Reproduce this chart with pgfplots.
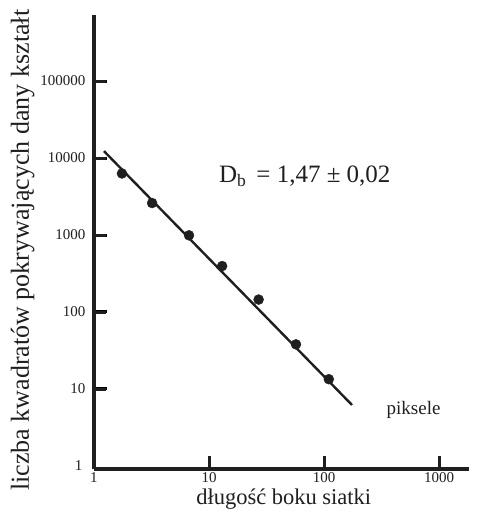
\documentclass[border=0pt]{standalone}
\usepackage{fontspec}
\setmainfont{Liberation Serif}
\usepackage{pgfplots}
\pgfplotsset{compat=1.18}
\usetikzlibrary{calc}
\definecolor{ink}{gray}{0.12}
\begin{document}
\begin{tikzpicture}
  \begin{axis}[
    name=ax,
    xmode=log, ymode=log,
    scale only axis,
    width=375pt, height=454pt,
    xmin=1, xmax=1820,
    ymin=0.914, ymax=720000,
    axis x line*=bottom, axis y line*=left,
    axis line style={line width=3.6pt, draw=ink},
    xtick align=inside, ytick align=inside,
    major tick length=13pt,
    major tick style={line width=3pt, draw=black},
    minor tick style={draw=none},
    xtick={1,10,100,1000},
    xticklabels={1,10,100,1000},
    ytick={10,100,1000,10000,100000},
    yticklabels={10,100,1000,10000,100000},
    tick label style={font=\fontsize{15}{15}\selectfont, ink},
    yticklabel style={xshift=-5pt},
    xlabel={długość boku siatki},
    ylabel={liczba kwadratów pokrywających dany kształt},
    xlabel style={font=\fontsize{22.5}{22.5}\selectfont, ink,
      at={(axis description cs:0.506,-0.066)}, anchor=center},
    ylabel style={font=\fontsize{26}{26}\selectfont, ink,
      at={(axis description cs:-0.19,0.482)}, anchor=center, rotate=0},
    clip=false,
  ]
  % dopasowana prosta
  \addplot[ink, line width=2.4pt] coordinates {(1.22,12300) (175,6.2)};
  % punkty pomiarowe
  \addplot[only marks, mark=*, mark size=5pt, ink] coordinates {
    (1.75,6300) (3.2,2600) (6.7,990) (13,395) (27,145) (57,38) (110,13.4)
  };
  \node[anchor=east, ink, font=\fontsize{15}{15}\selectfont, xshift=-8pt]
    at (axis cs:1,1) {1};
  \node[anchor=west, ink, font=\fontsize{25}{25}\selectfont] at (axis cs:11.4,5800)
    {D\textsubscript{b}\hspace{0.15em} = 1,47 ± 0,02};
  \node[ink, font=\fontsize{19}{19}\selectfont] at (axis cs:600,5.4) {piksele};
  \end{axis}
  % kreski podziałki
  \foreach \t in {0.3067,0.6135,0.9202}{
    \fill[ink] ($(ax.south west)!\t!(ax.south east)$) ++(-1.5pt,0pt) rectangle ++(3pt,13pt);
  }
  \foreach \t in {0.1762,0.3458,0.5154,0.6850,0.8546}{
    \fill[ink] ($(ax.south west)!\t!(ax.north west)$) ++(0pt,-1.5pt) rectangle ++(12pt,3pt);
  }
  \pgfresetboundingbox
  \path (ax.south west) ++(-94pt,-43pt) rectangle ++(491pt,512pt);
\end{tikzpicture}
\end{document}
